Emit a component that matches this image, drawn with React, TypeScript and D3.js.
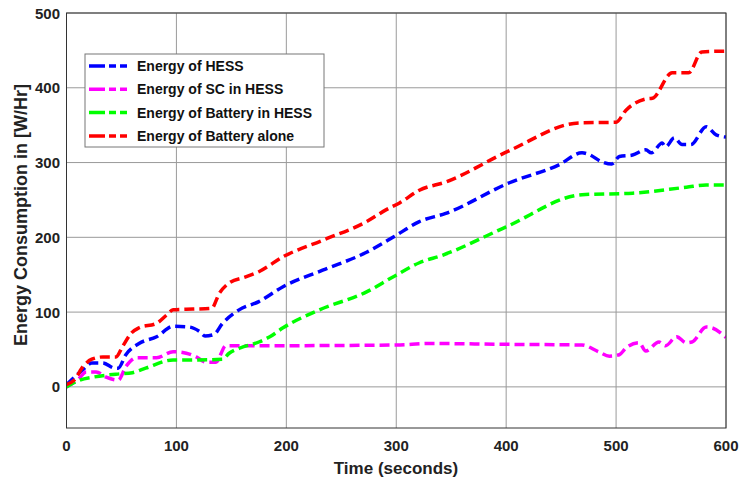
import React from "react";
import * as d3 from "d3";

// Time samples (s) and energy values (W/Hr) for each series
const hessTime = [0, 15, 23, 33, 44, 47, 54, 66, 82, 97, 112, 121, 126, 134, 142, 157, 175, 197, 233, 273, 297, 321, 345, 403, 448, 469, 475, 487, 496, 503, 515, 527, 532, 542, 545, 553, 560, 568, 582, 591, 600];
const hessEnergy = [3, 23, 32, 32, 25, 25, 43, 58, 67, 81, 80, 74, 68, 70, 85, 103, 114, 134, 156, 180, 200, 221, 232, 273, 297, 313, 311, 301, 298, 308, 310, 317, 313, 326, 321, 333, 324, 324, 348, 337, 334];

const scTime = [0, 10, 18, 27, 36, 47, 54, 64, 82, 97, 109, 118, 127, 136, 145, 175, 300, 330, 394, 469, 484, 494, 503, 509, 521, 527, 539, 545, 555, 564, 569, 582, 587, 600];
const scEnergy = [0, 9, 20, 20, 13, 9, 27, 39, 39, 47, 45, 40, 33, 33, 55, 55, 56, 58, 57, 56, 47, 41, 43, 52, 59, 48, 60, 55, 67, 59, 60, 80, 79, 66];

const battHessTime = [0, 12, 24, 45, 60, 72, 97, 115, 142, 148, 158, 175, 185, 197, 230, 273, 297, 321, 342, 400, 469, 515, 564, 582, 600];
const battHessEnergy = [0, 9, 13, 17, 19, 25, 36, 36, 37, 45, 52, 60, 67, 79, 103, 127, 147, 166, 176, 214, 257, 259, 267, 270, 270];

const battAloneTime = [0, 7, 15, 23, 33, 45, 51, 59, 66, 82, 91, 97, 115, 132, 139, 148, 163, 175, 197, 233, 273, 291, 303, 321, 345, 403, 466, 500, 509, 527, 533, 551, 566, 578, 600];
const battAloneEnergy = [3, 9, 27, 37, 40, 40, 54, 72, 79, 85, 96, 103, 104, 105, 125, 139, 147, 154, 174, 196, 221, 237, 246, 263, 274, 316, 353, 354, 370, 385, 386, 420, 420, 448, 449];

const seriesNames = ["Energy of HESS", "Energy of SC in HESS", "Energy of Battery in HESS", "Energy of Battery alone"];
const seriesColors = ["#0000ff", "#ff00ff", "#00ff00", "#ff0000"];

const xTicks = [0, 100, 200, 300, 400, 500, 600];
const yTicks = [0, 100, 200, 300, 400, 500];

const W = 740;
const H = 482;
const left = 66.5;
const right = 726;
const top = 13;
const bottom = 428;

export default function App() {
  const x = d3.scaleLinear().domain([0, 600]).range([left, right]);
  const y = d3.scaleLinear().domain([-55, 500]).range([bottom, top]);

  const series = [
    { t: hessTime, v: hessEnergy },
    { t: scTime, v: scEnergy },
    { t: battHessTime, v: battHessEnergy },
    { t: battAloneTime, v: battAloneEnergy },
  ];

  const line = d3
    .line<[number, number]>()
    .x((d) => x(d[0]))
    .y((d) => y(d[1]))
    .curve(d3.curveMonotoneX);

  const font = "'Liberation Sans', Arial, sans-serif";

  return (
    <div style={{ position: "absolute", left: 0, top: 0, background: "#fff" }}>
      <svg width={W} height={H} style={{ display: "block" }} fontFamily={font}>
        <rect x={0} y={0} width={W} height={H} fill="#fff" />
        <defs>
          <clipPath id="plotArea">
            <rect x={left} y={top} width={right - left} height={bottom - top} />
          </clipPath>
        </defs>
        {/* grid */}
        {xTicks.map((t) => (
          <line key={"gx" + t} x1={x(t)} x2={x(t)} y1={top} y2={bottom} stroke="#9a9a9a" strokeWidth={1} />
        ))}
        {yTicks.map((t) => (
          <line key={"gy" + t} x1={left} x2={right} y1={y(t)} y2={y(t)} stroke="#9a9a9a" strokeWidth={1} />
        ))}
        {/* series */}
        <g clipPath="url(#plotArea)">
          {series.map((s, i) => (
            <path
              key={i}
              d={line(s.t.map((t, j) => [t, s.v[j]] as [number, number])) || ""}
              fill="none"
              stroke={seriesColors[i]}
              strokeWidth={3.5}
              strokeDasharray="10 5"
              strokeLinejoin="round"
            />
          ))}
        </g>
        {/* axes box */}
        <rect x={left} y={top} width={right - left} height={bottom - top} fill="none" stroke="#333" strokeWidth={1} />
        {xTicks.map((t) => (
          <text key={"tx" + t} x={x(t)} y={451} textAnchor="middle" fontSize={15} fontWeight="bold" fill="#222">
            {t}
          </text>
        ))}
        {yTicks.map((t) => (
          <text key={"ty" + t} x={60} y={y(t) + 5.5} textAnchor="end" fontSize={15} fontWeight="bold" fill="#222">
            {t}
          </text>
        ))}
        <text x={396} y={474} textAnchor="middle" fontSize={17} fontWeight="bold" fill="#222">
          Time (seconds)
        </text>
        <text
          transform={`translate(27, 215) rotate(-90)`}
          textAnchor="middle"
          fontSize={18}
          fontWeight="bold"
          fill="#222"
        >
          Energy Consumption in [W/Hr]
        </text>
        {/* legend */}
        <rect x={85} y={54} width={239} height={93} fill="#fff" stroke="#777" strokeWidth={1} />
        {seriesNames.map((name, i) => (
          <g key={name} transform={`translate(0, ${66 + i * 23.3})`}>
            <line x1={89} x2={129} y1={0} y2={0} stroke={seriesColors[i]} strokeWidth={3.5} strokeDasharray="16 4 7 4 7" />
            <text x={137} y={5} fontSize={14} fontWeight="bold" fill="#111">
              {name}
            </text>
          </g>
        ))}
      </svg>
    </div>
  );
}
